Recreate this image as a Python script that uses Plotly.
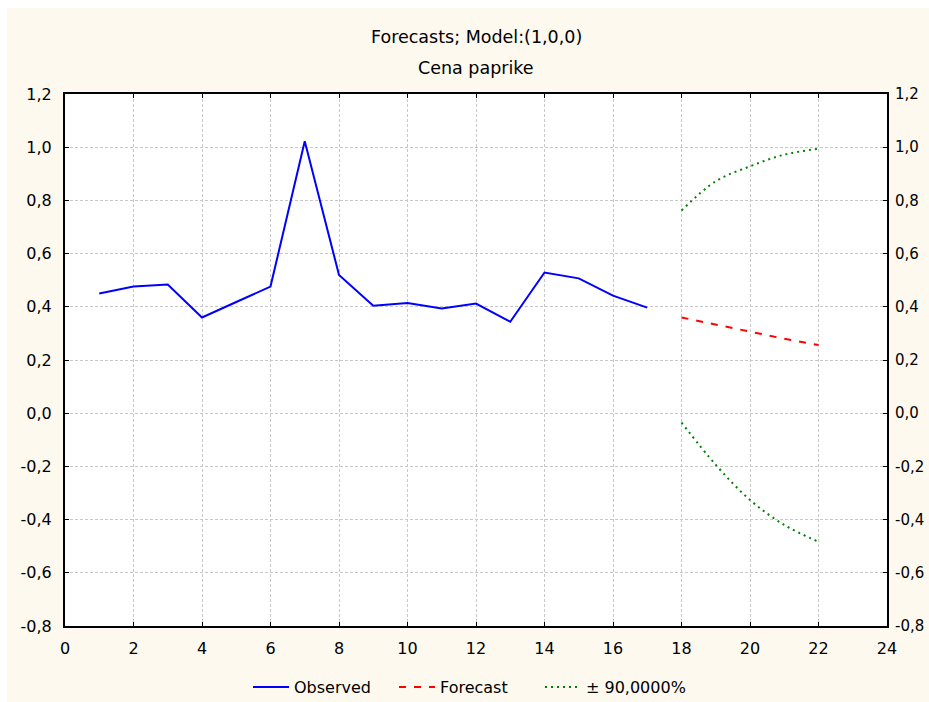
import plotly.graph_objects as go

# Observed series (periods 1-17)
obs_t = list(range(1, 18))
obs_val = [0.450, 0.476, 0.484, 0.360, 0.418, 0.476, 1.022, 0.520, 0.404,
           0.414, 0.394, 0.412, 0.344, 0.529, 0.507, 0.442, 0.397]

# Forecasts and 90% limits (periods 18-22)
fc_t = [18, 19, 20, 21, 22]
fc_val = [0.360, 0.333, 0.305, 0.280, 0.256]
fc_upper = [0.762, 0.872, 0.928, 0.972, 0.994]
fc_lower = [-0.035, -0.194, -0.326, -0.420, -0.483]

title_line1 = "Forecasts; Model:(1,0,0)"
title_line2 = "Cena paprike"
x_ticks = list(range(0, 25, 2))
y_ticks = [round(-0.8 + 0.2 * i, 1) for i in range(11)]
# decimal comma, plain hyphen for negatives
y_tick_labels = [f"{v:.1f}".replace(".", ",") for v in y_ticks]

CREAM = "#FDF9EF"
FONT = "DejaVu Sans, Liberation Sans, Arial, sans-serif"
W, H = 929, 702
M_L, M_R, M_T, M_B = 65, 42, 94, 76

fig = go.Figure()
fig.add_trace(go.Scatter(x=obs_t, y=obs_val, mode="lines", name="Observed",
                         line=dict(color="#0000FF", width=2)))
fig.add_trace(go.Scatter(x=fc_t, y=fc_val, mode="lines", name="Forecast",
                         line=dict(color="#FF0000", width=2, dash="7px,8px")))
fig.add_trace(go.Scatter(x=fc_t, y=fc_upper, mode="lines", name="± 90,0000%",
                         legendgroup="ci", line_shape="spline",
                         line=dict(color="#008000", width=2, dash="2px,4px")))
fig.add_trace(go.Scatter(x=fc_t, y=fc_lower, mode="lines", name="± 90,0000%",
                         legendgroup="ci", showlegend=False, line_shape="spline",
                         line=dict(color="#008000", width=2, dash="2px,4px")))
# carrier for the right-hand value axis
fig.add_trace(go.Scatter(x=[None], y=[None], yaxis="y2", showlegend=False,
                         hoverinfo="skip"))

tick_font = dict(family=FONT, size=16, color="black")
axis_common = dict(showline=True, linecolor="black", linewidth=2,
                   gridcolor="#C8C8C8", gridwidth=1, griddash="3px,2px",
                   zeroline=False, ticks="inside", ticklen=4, tickwidth=1,
                   tickcolor="black", mirror="ticks", automargin=False,
                   tickfont=tick_font)

plot_h = H - M_T - M_B


def py_to_paper(py):
    """Convert a pixel row (from the top) to a paper y coordinate."""
    return (H - M_B - py) / plot_h


fig.update_layout(
    width=W, height=H, autosize=False,
    margin=dict(l=M_L, r=M_R, t=M_T, b=M_B, pad=0),
    paper_bgcolor=CREAM, plot_bgcolor="white",
    font=dict(family=FONT, size=16, color="black"),
    xaxis=dict(range=[0, 24], tickvals=x_ticks, ticklabelstandoff=7,
               **axis_common),
    yaxis=dict(range=[-0.8, 1.2], tickvals=y_ticks, ticktext=y_tick_labels,
               ticklabelstandoff=8, **axis_common),
    yaxis2=dict(range=[-0.8, 1.2], tickvals=y_ticks, ticktext=y_tick_labels,
                overlaying="y", side="right", showgrid=False, showline=False,
                zeroline=False, ticks="", ticklabelstandoff=7,
                automargin=False,
                tickfont=dict(family=FONT, size=15, color="black")),
    legend=dict(orientation="h", xref="container", yref="container",
                x=248 / W, xanchor="left", y=(H - 687) / H,
                yanchor="middle", bgcolor="rgba(0,0,0,0)",
                font=dict(family=FONT, size=16), tracegroupgap=0,
                itemwidth=36, entrywidth=95, entrywidthmode="pixels"),
    showlegend=True,
    shapes=[
        dict(type="rect", xref="paper", yref="paper", x0=-0.2, x1=1.2,
             y0=py_to_paper(8), y1=1.4, fillcolor="white", line_width=0,
             layer="below"),
        dict(type="rect", xref="paper", yref="paper", x0=-0.2,
             x1=(7 - M_L) / (W - M_L - M_R), y0=-0.4, y1=1.4,
             fillcolor="white", line_width=0, layer="below"),
    ],
    annotations=[
        dict(text=title_line1, xref="paper", yref="paper", x=0.5,
             y=py_to_paper(37), xanchor="center", yanchor="middle",
             showarrow=False, font=dict(family=FONT, size=17.5)),
        dict(text=title_line2, xref="paper", yref="paper", x=0.5,
             y=py_to_paper(68), xanchor="center", yanchor="middle",
             showarrow=False, font=dict(family=FONT, size=17.5)),
    ],
)

fig.write_html("out.html")
